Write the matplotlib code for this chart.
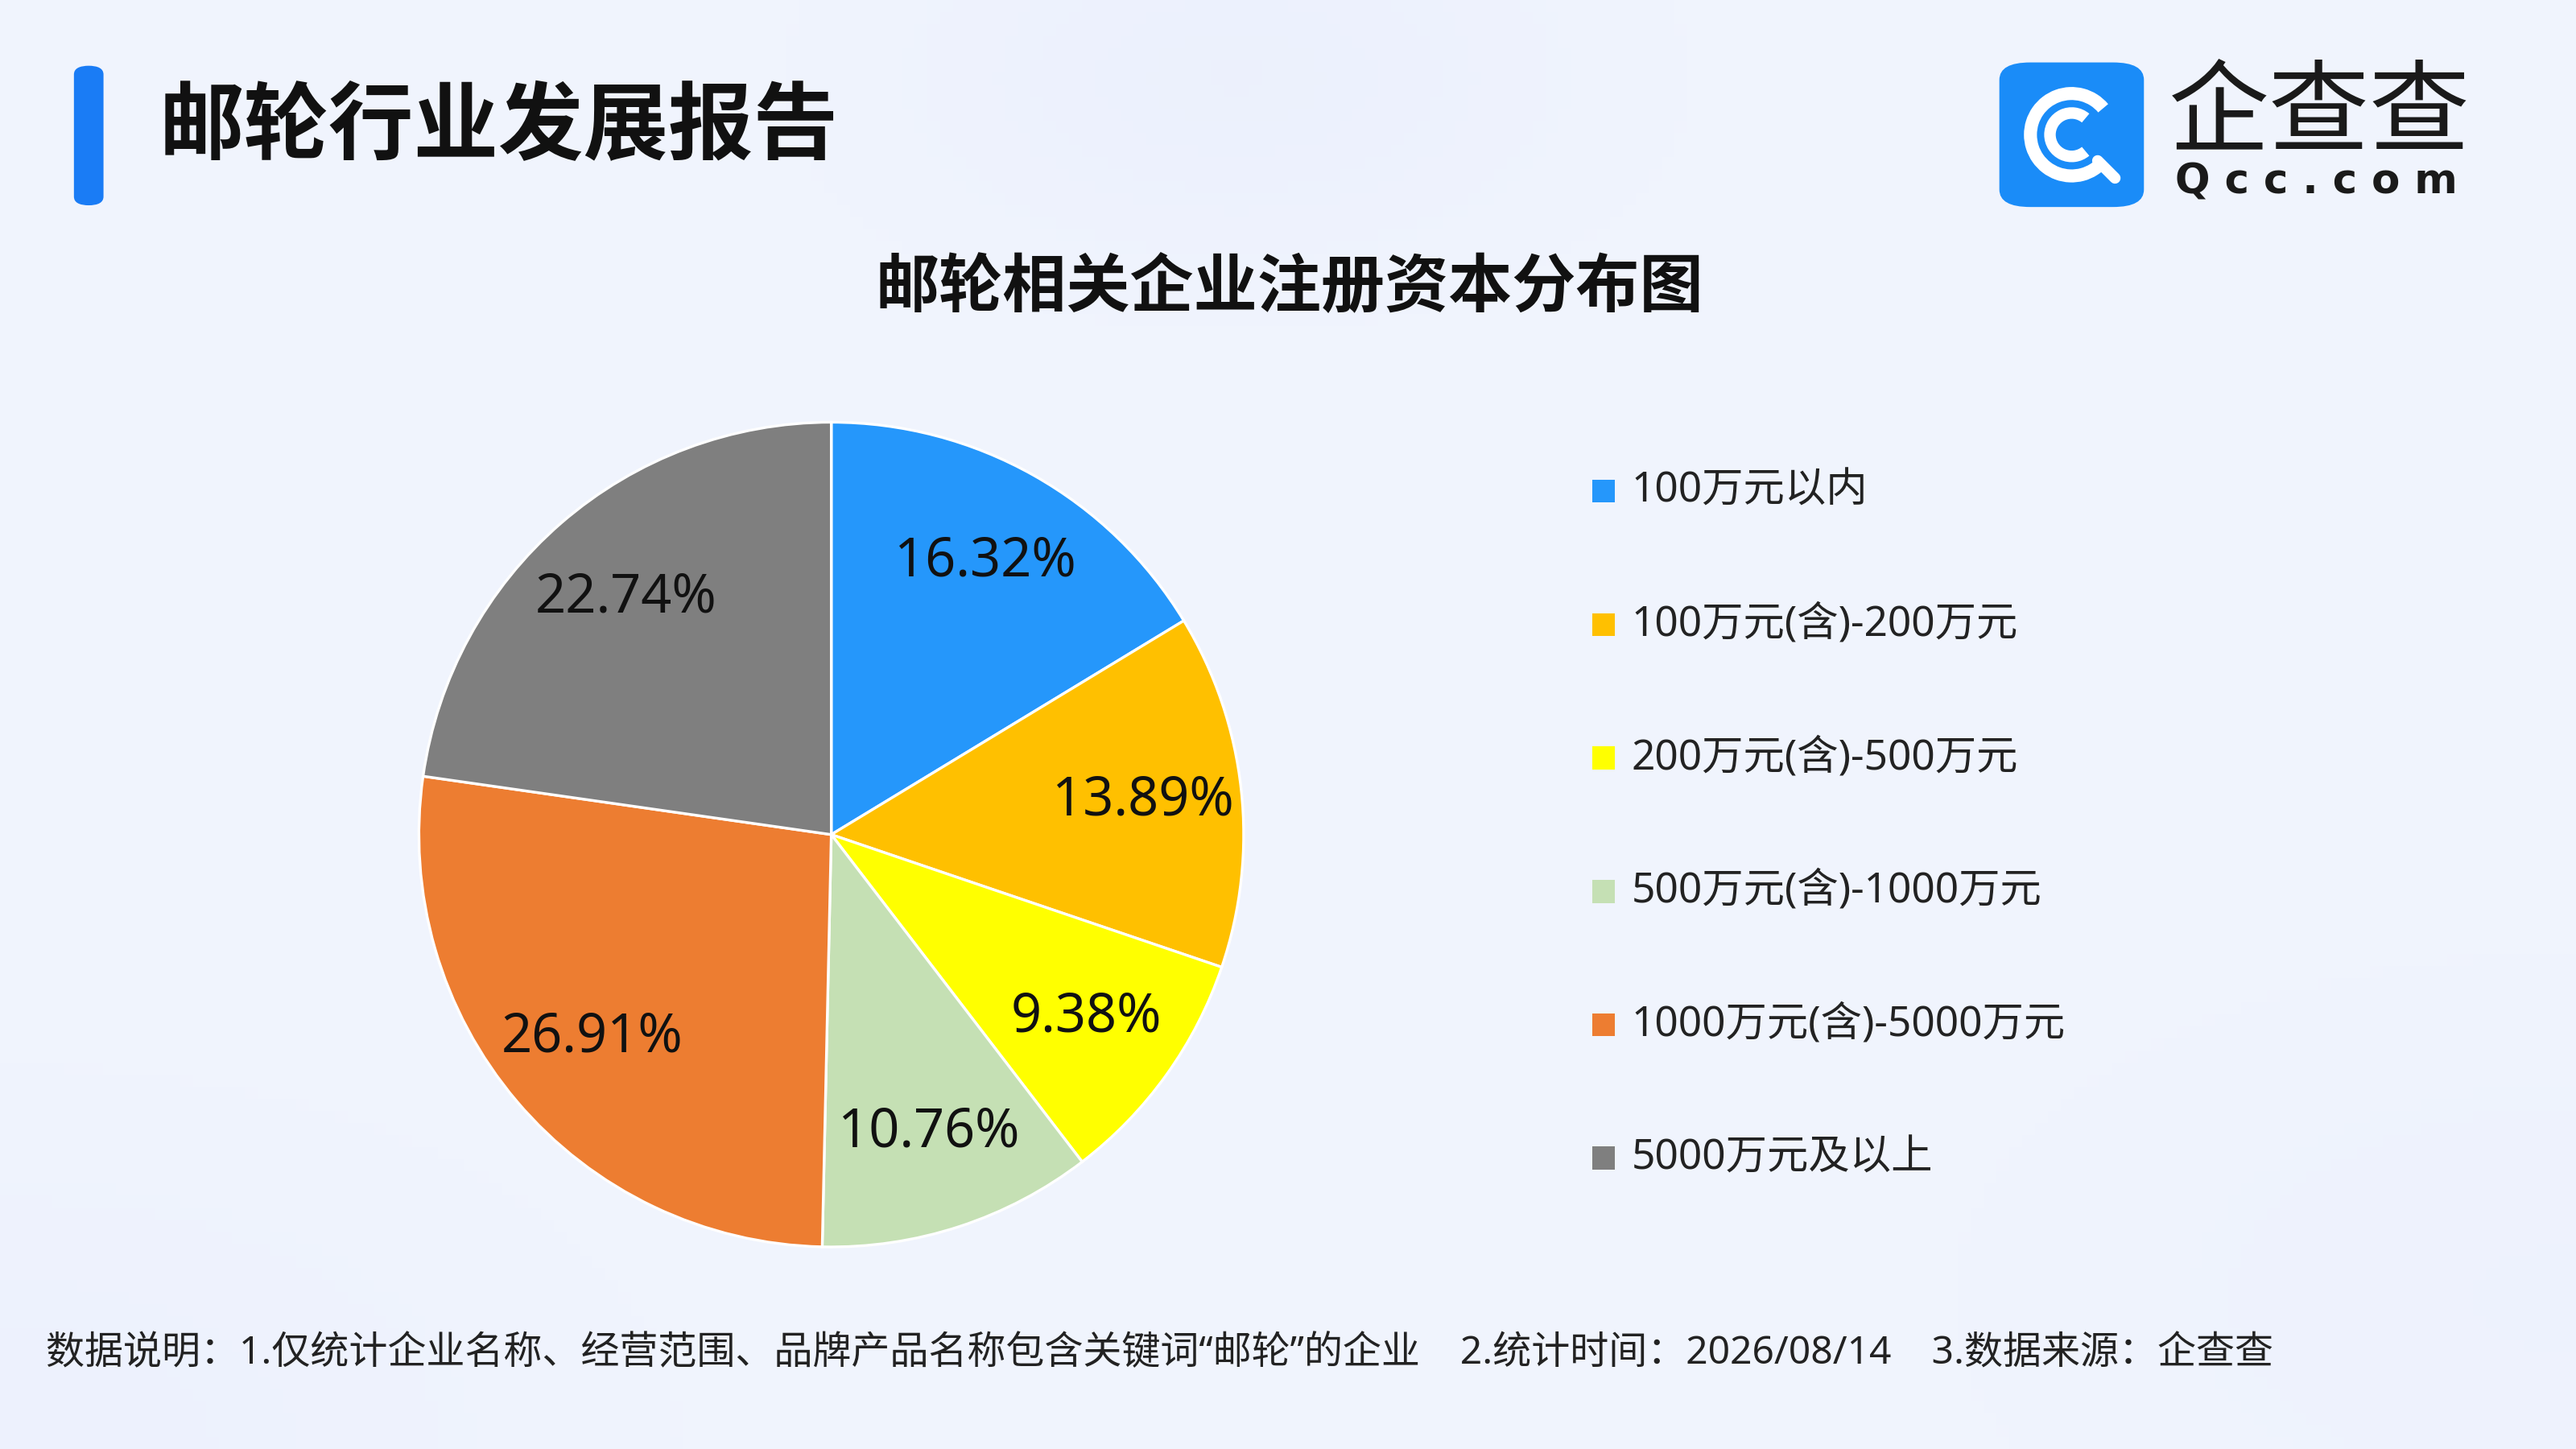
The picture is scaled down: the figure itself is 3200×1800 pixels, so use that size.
import numpy as np
import matplotlib.pyplot as plt
from matplotlib.patches import FancyBboxPatch, Rectangle, Wedge

plt.rcParams['font.family'] = ['Noto Sans', 'Noto Sans CJK SC', 'DejaVu Sans']

labels = ["100万元以内", "100万元(含)-200万元", "200万元(含)-500万元",
          "500万元(含)-1000万元", "1000万元(含)-5000万元", "5000万元及以上"]
values = [16.32, 13.89, 9.38, 10.76, 26.91, 22.74]
colors = ["#2597fb", "#ffc000", "#ffff00", "#c5e0b4", "#ed7d31", "#7f7f7f"]

W, H = 1568, 882  # layout reference units
fig = plt.figure(figsize=(16, 9), dpi=200)

# background
bg = fig.add_axes([0, 0, 1, 1])
gx = np.linspace(0, 1, 200)
gy = np.linspace(0, 1, 120)
X, Y = np.meshgrid(gx, gy)
base = np.array([0.945, 0.960, 0.995])
tint = np.array([0.915, 0.935, 0.990])
t = np.clip(0.6 * np.exp(-((X - 0.48) ** 2 / 0.02 + (Y - 0.95) ** 2 / 0.02)) +
            0.5 * np.exp(-((X - 0.0) ** 2 / 0.05 + (Y - 0.0) ** 2 / 0.05)) +
            0.4 * np.exp(-((X - 1.0) ** 2 / 0.05 + (Y - 0.1) ** 2 / 0.05)), 0, 1)
img = base * (1 - t[..., None]) + tint * t[..., None]
bg.imshow(img, extent=[0, 1, 0, 1], origin='lower', aspect='auto')
bg.set_xlim(0, 1); bg.set_ylim(0, 1); bg.axis('off')

def fx(x): return x / W
def fy(y): return 1 - y / H

# header bar + title
bg.add_patch(FancyBboxPatch((fx(45), fy(125)), fx(18), fy(40) - fy(125),
                            boxstyle="round,pad=0,rounding_size=0.006",
                            fc="#1a7cf5", ec="none"))
fig.text(fx(97), fy(78), "邮轮行业发展报告", fontsize=38, fontweight='bold',
         va='center', ha='left', color='#111111', family='Noto Sans CJK SC')

# logo
bg.add_patch(FancyBboxPatch((fx(1217), fy(126)), fx(88), fy(38) - fy(126),
                            boxstyle="round,pad=0,rounding_size=0.012",
                            fc="#1a8cf8", ec="none"))
lg = fig.add_axes([fx(1217), fy(126), fx(88), fy(38) - fy(126)])
lg.set_xlim(0, 1); lg.set_ylim(0, 1); lg.axis('off')
lg.add_patch(Wedge((0.5, 0.5), 0.33, 40, 320, width=0.09, fc='white'))
lg.add_patch(Wedge((0.5, 0.5), 0.19, 50, 310, width=0.08, fc='white'))
lg.plot([0.68, 0.8], [0.32, 0.2], color='white', lw=5, solid_capstyle='round')
fig.text(fx(1320), fy(70), "企查查", fontsize=45, color='#1a1a1a',
         ha='left', va='center', family='Noto Sans CJK SC')
fig.text(fx(1324), fy(111), "Q c c . c o m", fontsize=18.5, fontweight='bold',
         color='#1a1a1a', ha='left', va='center', family='DejaVu Sans')

# chart title
fig.text(fx(785), fy(175), "邮轮相关企业注册资本分布图", fontsize=28.5,
         fontweight='bold', ha='center', va='center', color='#111111',
         family='Noto Sans CJK SC')

# pie
r = 251
ax = fig.add_axes([fx(506 - r), fy(508 + r), 2 * r / W, 2 * r / H])
ax.pie(values, colors=colors, startangle=90, counterclock=False,
       autopct='%.2f%%', pctdistance=0.76,
       wedgeprops=dict(edgecolor='white', linewidth=1.2),
       textprops=dict(fontsize=24, color='#111111'))
ax.set_aspect('auto')
ax.set_xlim(-1, 1); ax.set_ylim(-1, 1)

# legend
for i, (lab, c) in enumerate(zip(labels, colors)):
    y = 299 + i * 81.2
    bg.add_patch(Rectangle((fx(969), fy(y + 7)), fx(14), fy(y - 7) - fy(y + 7),
                           fc=c, ec='none'))
    fig.text(fx(993), fy(y), lab, fontsize=18.5, va='center', ha='left',
             color='#222222')

# footnote
fig.text(fx(28), fy(824),
         "数据说明：1.仅统计企业名称、经营范围、品牌产品名称包含关键词“邮轮”的企业    2.统计时间：2026/08/14    3.数据来源：企查查",
         fontsize=17.3, va='center', ha='left', color='#222222')

fig.savefig("out.png", dpi=200)
